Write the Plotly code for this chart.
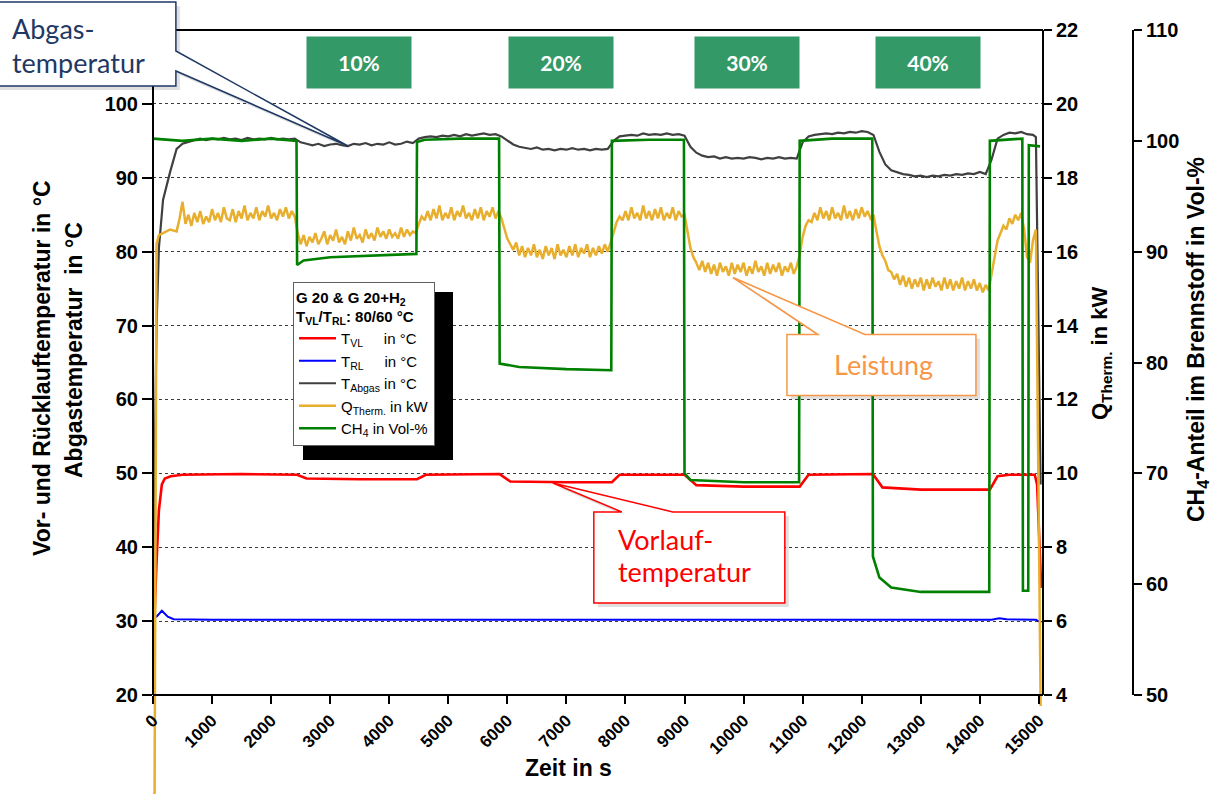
import plotly.graph_objects as go

# ---------------- data ----------------
# time base for T_Abgas (s)
zeit_s = [0, 25, 60, 100, 170, 290,
          400, 500, 600, 700, 800, 900,
          1000, 1100, 1200, 1300, 1400, 1500, 1600, 1700, 1800, 1900,
          2000, 2100, 2200, 2300, 2400, 2500, 2600, 2700, 2800, 2900,
          3000, 3100, 3200, 3300, 3400, 3500, 3600, 3700, 3800, 3900,
          4000, 4100, 4200, 4300, 4400, 4500, 4600, 4700, 4800, 4900,
          5000, 5100, 5200, 5300, 5400, 5500, 5600, 5700, 5800, 5900,
          6000, 6100, 6200, 6300, 6400, 6500, 6600, 6700, 6800, 6900,
          7000, 7100, 7200, 7300, 7400, 7500, 7600, 7700, 7800, 7900,
          8000, 8100, 8200, 8300, 8400, 8500, 8600, 8700, 8800, 8900,
          9000, 9100, 9200, 9300, 9400, 9500, 9600, 9700, 9800, 9900,
          10000, 10100, 10200, 10300, 10400, 10500, 10600, 10700, 10800, 10900,
          11000, 11100, 11200, 11300, 11400, 11500, 11600, 11700, 11800, 11900,
          12000, 12100, 12200, 12300, 12400, 12500, 12600, 12700, 12800, 12900,
          13000, 13100, 13200, 13300, 13400, 13500, 13600, 13700, 13800, 13900,
          14000, 14100, 14200, 14300, 14400, 14500, 14600, 14700, 14800, 14900,
          14950, 15030]

t_abgas = [34.8, 52.0, 70.0, 80.5, 87.0, 90.8,
           93.9, 94.6, 94.9, 95.1, 95.3, 95.1,
           95.3, 95.2, 95.4, 95.2, 95.3, 95.1, 95.4, 95.2, 95.3, 95.2,
           95.4, 95.2, 95.3, 95.2, 95.3, 94.8, 94.6, 94.4, 94.6, 94.3,
           94.5, 94.6, 94.4, 94.3, 94.6, 94.5, 94.7, 94.4, 94.6, 94.5,
           94.8, 94.5, 94.6, 94.9, 94.7, 95.3, 95.5, 95.6, 95.5, 95.7,
           95.6, 95.8, 95.6, 95.9, 95.7, 95.8, 96.0, 95.8, 95.9, 95.6,
           95.0, 94.5, 94.2, 94.0, 93.9, 94.1, 93.8, 93.9, 93.7, 93.9,
           93.8, 94.0, 93.8, 93.9, 93.7, 93.9, 93.8, 93.9, 95.0, 95.6,
           95.7, 95.8, 95.7, 96.0, 95.8, 95.9, 95.8, 96.0, 95.8, 95.9,
           95.7, 94.2, 93.4, 93.0, 92.8, 92.9, 92.6, 92.8, 92.6, 92.7,
           92.6, 92.8, 92.7, 92.5, 92.7, 92.6, 92.8, 92.6, 92.7, 92.6,
           94.8, 95.6, 95.8, 95.9, 96.0, 95.9, 96.1, 96.0, 96.2, 96.1,
           96.3, 96.2, 95.8, 93.5, 91.8, 91.0, 90.7, 90.5, 90.4, 90.2,
           90.3, 90.1, 90.3, 90.2, 90.4, 90.3, 90.5, 90.4, 90.6, 90.5,
           90.8, 90.5, 92.5, 95.3, 95.8, 96.1, 96.0, 96.2, 95.9, 95.8,
           95.5, 48.5]

# time base for Q_Therm (s)
zeit_q = [0, 25, 60, 100, 170, 290,
          400, 450,
          500, 550, 600, 650, 700, 750, 800, 850, 900, 950,
          1000, 1050, 1100, 1150, 1200, 1250, 1300, 1350, 1400, 1450,
          1500, 1550, 1600, 1650, 1700, 1750, 1800, 1850, 1900, 1950,
          2000, 2050, 2100, 2150, 2200, 2250, 2300, 2350, 2400, 2450,
          2500, 2550, 2600, 2650, 2700, 2750, 2800, 2850, 2900, 2950,
          3000, 3050, 3100, 3150, 3200, 3250, 3300, 3350, 3400, 3450,
          3500, 3550, 3600, 3650, 3700, 3750, 3800, 3850, 3900, 3950,
          4000, 4050, 4100, 4150, 4200, 4250, 4300, 4350, 4400, 4450,
          4500, 4550, 4600, 4650, 4700, 4750, 4800, 4850, 4900, 4950,
          5000, 5050, 5100, 5150, 5200, 5250, 5300, 5350, 5400, 5450,
          5500, 5550, 5600, 5650, 5700, 5750, 5800, 5850, 5900, 5950,
          6000, 6050, 6100, 6150, 6200, 6250, 6300, 6350, 6400, 6450,
          6500, 6550, 6600, 6650, 6700, 6750, 6800, 6850, 6900, 6950,
          7000, 7050, 7100, 7150, 7200, 7250, 7300, 7350, 7400, 7450,
          7500, 7550, 7600, 7650, 7700, 7750, 7800, 7850, 7900, 7950,
          8000, 8050, 8100, 8150, 8200, 8250, 8300, 8350, 8400, 8450,
          8500, 8550, 8600, 8650, 8700, 8750, 8800, 8850, 8900, 8950,
          9000, 9050, 9100, 9150, 9200, 9250, 9300, 9350, 9400, 9450,
          9500, 9550, 9600, 9650, 9700, 9750, 9800, 9850, 9900, 9950,
          10000, 10050, 10100, 10150, 10200, 10250, 10300, 10350, 10400, 10450,
          10500, 10550, 10600, 10650, 10700, 10750, 10800, 10850, 10900, 10950,
          11000, 11050, 11100, 11150, 11200, 11250, 11300, 11350, 11400, 11450,
          11500, 11550, 11600, 11650, 11700, 11750, 11800, 11850, 11900, 11950,
          12000, 12050, 12100, 12150, 12200, 12250, 12300, 12350, 12400, 12450,
          12500, 12550, 12600, 12650, 12700, 12750, 12800, 12850, 12900, 12950,
          13000, 13050, 13100, 13150, 13200, 13250, 13300, 13350, 13400, 13450,
          13500, 13550, 13600, 13650, 13700, 13750, 13800, 13850, 13900, 13950,
          14000, 14050, 14100, 14150, 14200, 14250, 14300, 14350, 14400, 14450,
          14500, 14550, 14600, 14650, 14700, 14750, 14800, 14850, 14900, 14950,
          15030]

q_therm_kw = [0.0, 0.5, 16.2, 16.45, 16.5, 16.6,
              16.55, 16.9,
              17.35, 16.75, 17.0, 16.7, 17.05, 16.8, 17.1, 16.75, 16.95, 16.8,
              17.15, 16.85, 17.05, 16.8, 17.2, 16.9, 16.85, 17.15, 16.8, 17.1,
              16.9, 17.25, 16.85, 17.05, 16.9, 17.2, 16.85, 17.1, 16.95, 17.25,
              16.9, 17.05, 16.85, 17.15, 16.95, 17.2, 16.9, 17.1, 16.95, 16.5,
              16.2, 16.45, 16.15, 16.4, 16.25, 16.5, 16.2, 16.35, 16.55, 16.2,
              16.45, 16.3, 16.6, 16.25, 16.4, 16.2, 16.55, 16.3, 16.65, 16.35,
              16.45, 16.25, 16.6, 16.35, 16.5, 16.3, 16.65, 16.4, 16.55, 16.35,
              16.6, 16.4, 16.5, 16.35, 16.65, 16.4, 16.6, 16.45, 16.55, 16.5,
              16.75, 16.95, 16.85, 17.1, 16.85, 17.15, 16.9, 17.25, 16.85, 17.05,
              16.9, 17.2, 16.85, 17.1, 16.95, 17.25, 16.9, 17.05, 16.85, 17.15,
              16.9, 17.2, 16.85, 17.1, 16.95, 17.2, 16.9, 17.1, 16.9, 16.6,
              16.35, 16.2, 16.05, 16.25, 15.9, 16.15, 15.85, 16.1, 15.9, 16.2,
              15.85, 16.05, 15.8, 16.15, 15.9, 16.1, 15.8, 16.2, 15.9, 16.05,
              15.85, 16.15, 15.9, 16.2, 15.85, 16.1, 15.95, 16.2, 15.85, 16.1,
              15.9, 16.15, 15.95, 16.2, 16.0, 16.25, 16.55, 16.8, 16.95, 16.85,
              17.1, 16.85, 17.2, 16.9, 17.05, 16.85, 17.25, 16.9, 17.1, 16.85,
              17.15, 16.9, 17.2, 16.85, 17.05, 16.9, 17.2, 16.85, 17.1, 16.95,
              17.0, 16.6, 16.1, 15.85, 15.7, 15.5, 15.75, 15.45, 15.7, 15.4,
              15.65, 15.35, 15.7, 15.45, 15.6, 15.35, 15.7, 15.4, 15.65, 15.45,
              15.7, 15.35, 15.6, 15.4, 15.75, 15.45, 15.6, 15.35, 15.7, 15.4,
              15.65, 15.45, 15.7, 15.35, 15.6, 15.45, 15.7, 15.4, 15.6, 15.9,
              16.4, 16.7, 16.85, 16.8, 17.05, 16.85, 17.2, 16.9, 17.1, 16.85,
              17.2, 16.9, 17.05, 16.85, 17.25, 16.9, 17.1, 16.85, 17.15, 16.9,
              17.2, 16.95, 17.1, 16.9, 17.0, 16.55, 16.15, 15.9, 15.75, 15.5,
              15.45, 15.25, 15.4, 15.1, 15.35, 15.05, 15.3, 15.0, 15.25, 15.05,
              15.3, 14.95, 15.25, 15.0, 15.3, 15.05, 15.2, 14.95, 15.3, 15.0,
              15.25, 14.95, 15.2, 15.0, 15.3, 14.95, 15.2, 15.0, 15.25, 14.95,
              15.15, 14.9, 15.1, 14.95, 15.4, 15.95, 16.3, 16.5, 16.7, 16.6,
              16.9, 16.75, 17.0, 16.85, 17.05, 16.6, 15.85, 15.7, 16.3, 16.6,
              3.7]

# Vorlauftemperatur
zeit_vl = [0, 30, 60, 100, 150, 200, 300, 500, 1500, 2440, 2600, 3500, 4470, 4620,
           5870, 6050, 7000, 7770, 7900, 9000, 9200, 10000, 10950, 11100, 12190,
           12350, 13000, 14170, 14300, 14500, 14930, 14970, 15040]
t_vl = [31.1, 31.6, 38.0, 45.0, 48.5, 49.3, 49.6, 49.8, 49.9, 49.8, 49.3, 49.2, 49.2, 49.8,
        49.9, 48.9, 48.8, 48.8, 49.8, 49.8, 48.4, 48.2, 48.2, 49.8, 49.9,
        48.1, 47.8, 47.8, 49.6, 49.8, 49.8, 48.5, 34.5]

# Ruecklauftemperatur
zeit_rl = [0, 60, 150, 250, 350, 1000, 5000, 10000, 14200, 14330, 14450, 14950, 15040]
t_rl = [30.4, 30.6, 31.4, 30.6, 30.25, 30.2, 30.2, 30.2, 30.2, 30.4, 30.25, 30.2, 29.8]

# CH4-Anteil im Brennstoff
zeit_ch4 = [0, 500, 1000, 1500, 2000, 2430, 2440, 2550, 3000, 3500, 4000, 4460,
            4470, 4600, 5200, 5860, 5870, 6200, 7000, 7760, 7770, 8400, 8990,
            9000, 9100, 10000, 10940, 10950, 11500, 12180, 12190, 12300, 12500,
            13000, 14160, 14170, 14720, 14730, 14820, 14830, 15020]
ch4_vol = [100.2, 100.0, 100.2, 100.0, 100.2, 100.0, 88.8, 89.2, 89.5, 89.6, 89.7, 89.8,
           99.9, 100.1, 100.2, 100.2, 79.9, 79.6, 79.4, 79.3, 100.0, 100.1, 100.1,
           70.0, 69.4, 69.2, 69.2, 100.0, 100.2, 100.2, 62.5, 60.6, 59.7,
           59.3, 59.3, 100.0, 100.2, 59.4, 59.4, 99.6, 99.5]

# H2 phases (label, centre time)
phase_labels = ["10%", "20%", "30%", "40%"]
phase_label_t = [3480, 6900, 10060, 13120]

x_ticks = [0, 1000, 2000, 3000, 4000, 5000, 6000, 7000, 8000, 9000, 10000,
           11000, 12000, 13000, 14000, 15000]
temp_ticks = [20, 30, 40, 50, 60, 70, 80, 90, 100]
kw_ticks = [4, 6, 8, 10, 12, 14, 16, 18, 20, 22]
ch4_ticks = [50, 60, 70, 80, 90, 100, 110]

# callout tips (data coordinates)
abgas_tip = (3300, 94.3)        # T_Abgas
leistung_tip = (9820, 15.3)     # kW
vorlauf_tip = (6770, 48.7)      # T_VL

# ---------------- layout geometry ----------------
W, H = 1212, 794
ML, MR, MT, MB = 153, 19, 30, 0
plot_w = W - ML - MR
plot_h = H - MT - MB
x_end = 890 / plot_w            # right frame (kW axis)
d = 99 / plot_h                 # x-axis position (bottom of frame)
ch4_pos = (1133 - ML) / plot_w

T_RANGE = (20, 110)
KW_RANGE = (4, 22)
CH4_RANGE = (50, 110)
X_RANGE = (0, 15070)


def ext(r):
    lo, hi = r
    return [lo - (hi - lo) * d / (1 - d), hi]


def px_t(t):
    return x_end * (t - X_RANGE[0]) / (X_RANGE[1] - X_RANGE[0])


def py_T(v):
    return d + (1 - d) * (v - T_RANGE[0]) / (T_RANGE[1] - T_RANGE[0])


def py_kw(v):
    return d + (1 - d) * (v - KW_RANGE[0]) / (KW_RANGE[1] - KW_RANGE[0])


def pxp(px):      # pixel column -> paper x
    return (px - ML) / plot_w


def pyp(py):      # pixel row -> paper y
    return (H - MB - py) / plot_h


BOLD = "Liberation Sans, Arial, sans-serif"
CAL = "Lato, Open Sans, sans-serif"
NB = "\u00a0"

fig = go.Figure()
fig.add_trace(go.Scatter(x=zeit_vl, y=t_vl, mode="lines", name="T<sub>VL</sub>" + NB * 5 + "in °C",
                         line=dict(color="#ff0000", width=2.6), yaxis="y"))
fig.add_trace(go.Scatter(x=zeit_rl, y=t_rl, mode="lines", name="T<sub>RL</sub>" + NB * 5 + "in °C",
                         line=dict(color="#0000ff", width=2), yaxis="y"))
fig.add_trace(go.Scatter(x=zeit_s, y=t_abgas, mode="lines", name="T<sub>Abgas</sub> in °C",
                         line=dict(color="#404040", width=2.2), yaxis="y"))
fig.add_trace(go.Scatter(x=zeit_q, y=q_therm_kw, mode="lines",
                         name="Q<sub>Therm.</sub> in kW",
                         line=dict(color="#e8ae2e", width=2.5), yaxis="y2"))
fig.add_trace(go.Scatter(x=zeit_ch4, y=ch4_vol, mode="lines", name="CH<sub>4</sub> in Vol-%",
                         line=dict(color="#008000", width=2.6), yaxis="y3"))

tick_common = dict(ticks="outside", tickcolor="black", tickwidth=2, showline=False,
                   zeroline=False, automargin=False,
                   tickfont=dict(family=BOLD, size=20, color="black", weight="bold"))

fig.update_layout(
    width=W, height=H,
    margin=dict(l=ML, r=MR, t=MT, b=MB, autoexpand=False),
    paper_bgcolor="white", plot_bgcolor="white",
    showlegend=True,
    xaxis=dict(domain=[0, x_end], range=list(X_RANGE), anchor="free", position=d,
               showline=True, linecolor="black", linewidth=2, showgrid=False, zeroline=False,
               ticks="outside", ticklen=8, tickwidth=2, tickcolor="black",
               tickvals=x_ticks, ticktext=[str(v) for v in x_ticks], tickangle=-45,
               tickfont=dict(family=BOLD, size=17, color="black", weight="bold"),
               automargin=False),
    yaxis=dict(domain=[0, 1], range=ext(T_RANGE), tickvals=temp_ticks, ticklen=10,
               showgrid=True, gridcolor="#3c3c3c", gridwidth=1, griddash="dot",
               anchor="x", **tick_common),
    yaxis2=dict(overlaying="y", side="right", anchor="x", range=ext(KW_RANGE),
                tickvals=kw_ticks, ticklen=8, showgrid=False, **tick_common),
    yaxis3=dict(overlaying="y", side="right", anchor="free", position=ch4_pos,
                range=ext(CH4_RANGE), tickvals=ch4_ticks, ticklen=8, showgrid=False,
                **tick_common),
    legend=dict(x=pxp(293), y=pyp(282), xanchor="left", yanchor="top",
                bgcolor="white", bordercolor="#606060", borderwidth=1,
                font=dict(family=BOLD, size=15, color="black"),
                title=dict(text="<b>G 20 & G 20+H<sub>2</sub><br>T<sub>VL</sub>/T<sub>RL</sub>: 80/60 °C</b>",
                           font=dict(family=BOLD, size=15, color="black")),
                itemwidth=37, tracegroupgap=0),
)

shapes = []
# legend shadow
shapes.append(dict(type="rect", xref="paper", yref="paper",
                   x0=pxp(303), x1=pxp(453), y0=pyp(460), y1=pyp(292),
                   fillcolor="black", line=dict(width=0), layer="above"))
# frame lines
for (x0, y0, x1, y1) in [(0, d, 0, 1), (x_end, d, x_end, 1), (0, 1, x_end, 1),
                         (ch4_pos, d, ch4_pos, 1)]:
    shapes.append(dict(type="line", xref="paper", yref="paper", x0=x0, y0=y0, x1=x1, y1=y1,
                       line=dict(color="black", width=2), layer="above"))


def callout(tip_px, tip_py, pts, color, shift=(0, 0), fill="white", lw=1.5):
    s = "M %d,%d " % shift + " ".join("L %d,%d" % (a + shift[0], b + shift[1]) for a, b in pts) + " Z"
    return dict(type="path", xref="paper", yref="paper", xsizemode="pixel", ysizemode="pixel",
                xanchor=tip_px, yanchor=tip_py, path=s, fillcolor=fill,
                line=dict(color=color, width=lw), layer="above")


abgas_pts = [(-172, 75), (-172, 60), (-352, 60), (-352, 144), (-172, 144), (-172, 95)]
leist_pts = [(85, -57), (54, -57), (54, -118), (243, -118), (243, -57), (132, -57)]
vorl_pts = [(69, -29), (41, -29), (41, -120), (232, -120), (232, -29), (120, -29)]

tips = [
    (px_t(abgas_tip[0]), py_T(abgas_tip[1]), abgas_pts, "#1f3864"),
    (px_t(leistung_tip[0]), py_kw(leistung_tip[1]), leist_pts, "#f79646"),
    (px_t(vorlauf_tip[0]), py_T(vorlauf_tip[1]), vorl_pts, "#ff0000"),
]
for tx, ty, pts, col in tips:
    shapes.append(callout(tx, ty, pts, "rgba(0,0,0,0)", shift=(4, -4),
                          fill="rgba(0,0,0,0.12)", lw=0))
    shapes.append(callout(tx, ty, pts, col))
fig.update_layout(shapes=shapes)

ann = []
# phase labels
for lab, t in zip(phase_labels, phase_label_t):
    ann.append(dict(x=t, y=105.6, xref="x", yref="y", text=lab, showarrow=False,
                    xanchor="center", yanchor="middle",
                    width=104, height=51, bgcolor="#339966", borderpad=0,
                    font=dict(family=CAL, size=21, color="white", weight="bold")))


def ctext(tip, txt, dx, dy, color, anchor="left"):
    return dict(x=tip[0], y=tip[1], xref="paper", yref="paper", xanchor=anchor,
                yanchor="middle", xshift=dx, yshift=dy, showarrow=False, text=txt,
                font=dict(family=CAL, size=27, color=color))


ann.append(ctext(tips[0], "Abgas-", -338, 118, "#1f3864"))
ann.append(ctext(tips[0], "temperatur", -338, 84, "#1f3864"))
ann.append(ctext(tips[1], "Leistung", 151, -87, "#f79646", anchor="center"))
ann.append(ctext(tips[2], "Vorlauf-", 63, -57, "#ff0000"))
ann.append(ctext(tips[2], "temperatur", 63, -89, "#ff0000"))

# axis titles
tf = dict(family=BOLD, size=23, color="black", weight="bold")


def title(px, py, txt, angle=-90, font=tf):
    return dict(x=pxp(px), y=pyp(py), xref="paper", yref="paper", xanchor="center",
                yanchor="middle", text=txt, textangle=angle, showarrow=False, font=font)


ann.append(title(42, 368, "Vor- und Rücklauftemperatur in °C"))
ann.append(title(74, 350, "Abgastemperatur  in °C"))
ann.append(title(1101, 354, "Q<sub>Therm.</sub> in kW",
                 font=dict(family=BOLD, size=22, color="black", weight="bold")))
ann.append(title(1197, 340, "CH<sub>4</sub>-Anteil im Brennstoff in Vol-%"))
ann.append(title(568, 768, "Zeit in s", angle=0))
fig.update_layout(annotations=ann)

fig.write_html("out.html", config={"displayModeBar": False},
               post_script="document.body.style.margin='0px';")
